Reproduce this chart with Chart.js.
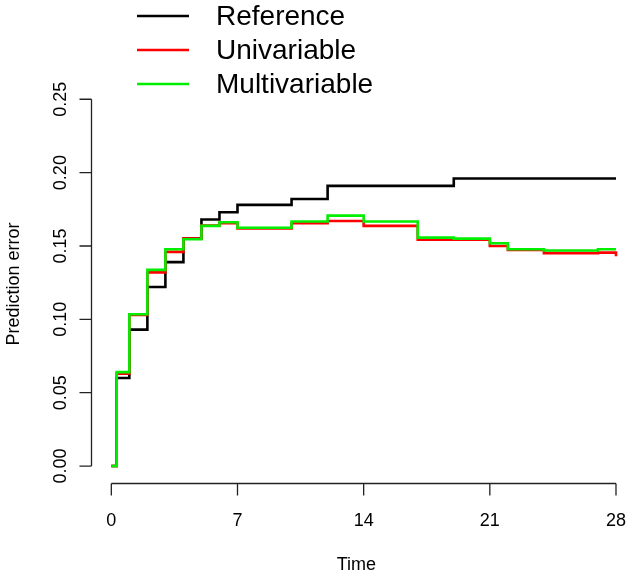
<!DOCTYPE html>
<html>
<head>
<meta charset="utf-8">
<script src="https://cdn.jsdelivr.net/npm/chart.js@4/dist/chart.umd.min.js"></script>
<style>
html,body{margin:0;padding:0;background:#fff;}
#wrap{width:628px;height:576px;position:relative;}
</style>
</head>
<body>
<div id="wrap"><canvas id="c" width="628" height="576"></canvas></div>
<script>
const seriesNames = ['Reference', 'Univariable', 'Multivariable'];
const seriesColors = ['#000000', '#ff0000', '#00ee00'];
const times    = [0, 0.3, 1, 2, 3, 4, 5, 6, 7, 10, 12, 14, 17, 19, 21, 22, 24, 27, 28];
const refErr   = [0, 0.060, 0.093, 0.122, 0.139, 0.155, 0.168, 0.173, 0.178, 0.182, 0.191, 0.191, 0.191, 0.196, 0.196, 0.196, 0.196, 0.196, 0.196];
const uniErr   = [0, 0.063, 0.103, 0.132, 0.146, 0.155, 0.164, 0.1655, 0.162, 0.1655, 0.167, 0.1637, 0.1542, 0.1542, 0.150, 0.1473, 0.1451, 0.1455, 0.143];
const multiErr = [0, 0.064, 0.1035, 0.1337, 0.1478, 0.1546, 0.1637, 0.1662, 0.1624, 0.1667, 0.1707, 0.1667, 0.1557, 0.155, 0.1519, 0.1478, 0.1469, 0.1478, 0.1478];
const xTicks = [0, 7, 14, 21, 28];
const xTickLabels = ['0', '7', '14', '21', '28'];
const yTicks = [0, 0.05, 0.10, 0.15, 0.20, 0.25];
const yTickLabels = ['0.00', '0.05', '0.10', '0.15', '0.20', '0.25'];
const xTitle = 'Time';
const yTitle = 'Prediction error';

const FONT = '"Liberation Sans", Arial, Helvetica, sans-serif';
const allSeries = [refErr, uniErr, multiErr];

const datasets = allSeries.map((vals, i) => ({
  label: seriesNames[i],
  data: times.map((t, k) => ({x: t, y: vals[k]})),
  borderColor: seriesColors[i],
  backgroundColor: seriesColors[i],
  borderWidth: 2.6,
  pointRadius: 0,
  stepped: 'before',
  fill: false,
  order: 2 - i
}));

const rAxes = {
  id: 'rAxes',
  afterDraw(chart) {
    const ctx = chart.ctx, xs = chart.scales.x, ys = chart.scales.y, a = chart.chartArea;
    ctx.save();
    ctx.strokeStyle = '#222';
    ctx.lineWidth = 1.3;
    const tl = 12;
    ctx.beginPath();
    ctx.moveTo(xs.getPixelForValue(xTicks[0]), a.bottom);
    ctx.lineTo(xs.getPixelForValue(xTicks[xTicks.length - 1]), a.bottom);
    xTicks.forEach(v => {
      const px = xs.getPixelForValue(v);
      ctx.moveTo(px, a.bottom);
      ctx.lineTo(px, a.bottom + tl);
    });
    ctx.moveTo(a.left, ys.getPixelForValue(yTicks[0]));
    ctx.lineTo(a.left, ys.getPixelForValue(yTicks[yTicks.length - 1]));
    yTicks.forEach(v => {
      const py = ys.getPixelForValue(v);
      ctx.moveTo(a.left, py);
      ctx.lineTo(a.left - tl, py);
    });
    ctx.stroke();
    ctx.fillStyle = '#000';
    ctx.font = '18px ' + FONT;
    // x tick labels
    ctx.textAlign = 'center';
    ctx.textBaseline = 'alphabetic';
    xTicks.forEach((v, i) => {
      ctx.fillText(xTickLabels[i], xs.getPixelForValue(v), a.bottom + 42.5);
    });
    // y tick labels (rotated, R style)
    yTicks.forEach((v, i) => {
      const py = ys.getPixelForValue(v);
      ctx.save();
      ctx.translate(a.left - 26, py);
      ctx.rotate(-Math.PI / 2);
      ctx.fillText(yTickLabels[i], 0, 0);
      ctx.restore();
    });
    // legend
    const lx0 = 137, lx1 = 189, tx = 216, ly = [16, 50, 84];
    ctx.font = '28px ' + FONT;
    ctx.textAlign = 'left';
    ctx.textBaseline = 'middle';
    seriesNames.forEach((n, i) => {
      ctx.strokeStyle = seriesColors[i];
      ctx.lineWidth = 2.6;
      ctx.beginPath();
      ctx.moveTo(lx0, ly[i]);
      ctx.lineTo(lx1, ly[i]);
      ctx.stroke();
      ctx.fillStyle = '#000';
      ctx.fillText(n, tx, ly[i] + 1);
    });
    ctx.restore();
  }
};

new Chart(document.getElementById('c'), {
  type: 'line',
  data: { datasets },
  options: {
    responsive: false,
    animation: false,
    layout: { padding: { top: 84.6, right: 6.6, left: 0, bottom: 0 } },
    plugins: { legend: { display: false }, tooltip: { enabled: false } },
    scales: {
      x: {
        type: 'linear',
        min: -1.1,
        max: 28.3,
        grid: { display: false, drawTicks: false },
        border: { display: false },
        afterBuildTicks: s => { s.ticks = xTicks.map(v => ({ value: v })); },
        ticks: { display: false },
        title: {
          display: true, text: xTitle, color: '#000',
          font: { size: 18, family: FONT },
          padding: { top: 0, bottom: 0 }
        },
        afterFit: s => { s.height = 92.5; s.paddingLeft = 0; s.paddingRight = 0; }
      },
      y: {
        type: 'linear',
        min: -0.0119,
        max: 0.26,
        grid: { display: false, drawTicks: false },
        border: { display: false },
        afterBuildTicks: s => { s.ticks = yTicks.map(v => ({ value: v })); },
        ticks: { display: false },
        title: {
          display: true, text: yTitle, color: '#000',
          font: { size: 18, family: FONT },
          padding: { top: 3, bottom: 0 }
        },
        afterFit: s => { s.width = 91.5; s.paddingTop = 0; s.paddingBottom = 0; }
      }
    }
  },
  plugins: [rAxes]
});
</script>
</body>
</html>
